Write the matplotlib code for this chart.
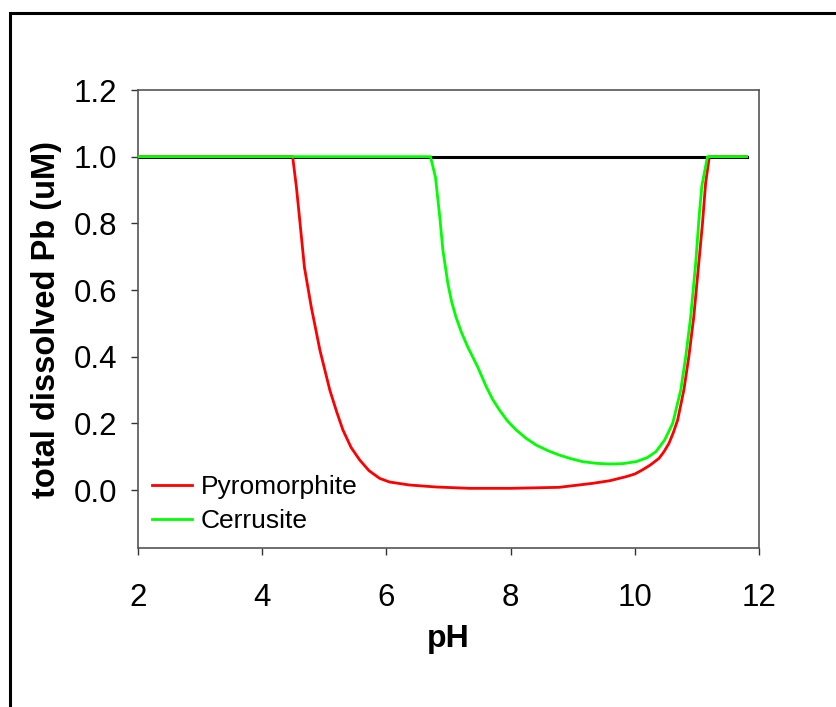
import matplotlib
matplotlib.use("Agg")
import matplotlib.pyplot as plt
from matplotlib.patches import Rectangle

plt.rcParams['font.family'] = ['Liberation Sans', 'DejaVu Sans']

# Data
ph_total = [2.0, 11.8]
pb_total = [1.0, 1.0]

ph_pyro = [2.0, 4.49, 4.55, 4.60, 4.68, 4.79, 4.93, 5.09, 5.20, 5.30, 5.43, 5.57, 5.72, 5.89,
           6.05, 6.37, 6.8, 7.34, 8.0, 8.78, 9.32, 9.6, 9.86, 10.0, 10.12, 10.25, 10.39,
           10.47, 10.55, 10.62, 10.69, 10.79, 10.87, 10.95, 11.02, 11.09, 11.14, 11.20, 11.8]
pb_pyro = [1.0, 1.0, 0.91, 0.818, 0.668, 0.549, 0.419, 0.299, 0.234, 0.180, 0.128, 0.090, 0.058,
           0.035, 0.024, 0.015, 0.009, 0.005, 0.005, 0.008, 0.020, 0.028, 0.040, 0.048, 0.060,
           0.075, 0.095, 0.115, 0.14, 0.172, 0.21, 0.30, 0.40, 0.52, 0.66, 0.80, 0.92, 1.0, 1.0]

ph_cer = [2.0, 6.71, 6.79, 6.86, 6.91, 6.99, 7.05, 7.12, 7.21, 7.31, 7.47, 7.61, 7.71, 7.82,
          7.95, 8.09, 8.25, 8.41, 8.6, 8.78, 8.97, 9.16, 9.38, 9.59, 9.8, 10.02, 10.2, 10.34,
          10.48, 10.61, 10.74, 10.82, 10.90, 10.98, 11.04, 11.08, 11.17, 11.8]
pb_cer = [1.0, 1.0, 0.938, 0.818, 0.719, 0.619, 0.565, 0.519, 0.472, 0.429, 0.369, 0.309,
          0.272, 0.24, 0.207, 0.18, 0.155, 0.135, 0.118, 0.105, 0.094, 0.085, 0.080, 0.078,
          0.079, 0.085, 0.097, 0.115, 0.150, 0.20, 0.30, 0.40, 0.52, 0.68, 0.83, 0.913, 1.0, 1.0]

xticks = [2, 4, 6, 8, 10, 12]
yticks = [0.0, 0.2, 0.4, 0.6, 0.8, 1.0, 1.2]

fig = plt.figure(figsize=(8.36, 7.07), dpi=100)
ax = fig.add_axes([138/836, 1-548/707, (759-138)/836, (548-90)/707])

ax.plot(ph_total, pb_total, color='black', lw=2.2, zorder=2)
ax.plot(ph_pyro, pb_pyro, color='#ff0000', lw=2.0, label='Pyromorphite', zorder=3)
ax.plot(ph_cer, pb_cer, color='#00ff00', lw=2.0, label='Cerrusite', zorder=4)

ax.set_xlim(2, 12)
ax.set_ylim(-0.174, 1.2)
ax.set_xticks(xticks)
ax.set_xticklabels([str(v) for v in xticks])
ax.set_yticks(yticks)
ax.set_yticklabels([f"{v:.1f}" for v in yticks])

for s in ax.spines.values():
    s.set_color('#555555')
    s.set_linewidth(1.2)
ax.tick_params(axis='both', direction='out', length=5, width=1.0, color='#333333',
               labelsize=22.5)
ax.tick_params(axis='x', pad=20)
ax.tick_params(axis='y', pad=10)

ax.set_xlabel('pH', fontsize=23, fontweight='bold', labelpad=8)
ax.set_ylabel('total dissolved Pb (uM)', fontsize=23.5, fontweight='bold', labelpad=8)

leg = ax.legend(loc='center left', bbox_to_anchor=(0.0225, 0.096), frameon=False,
                fontsize=19, handlelength=1.5, handletextpad=0.35,
                labelspacing=0.38, borderpad=0, borderaxespad=0)

fig.patches.append(Rectangle((10/836, -0.5), 2.0, 1.5 - 13/707, transform=fig.transFigure,
                             fill=False, edgecolor='black', lw=2.2, figure=fig))

fig.savefig('out.png', dpi=100)
